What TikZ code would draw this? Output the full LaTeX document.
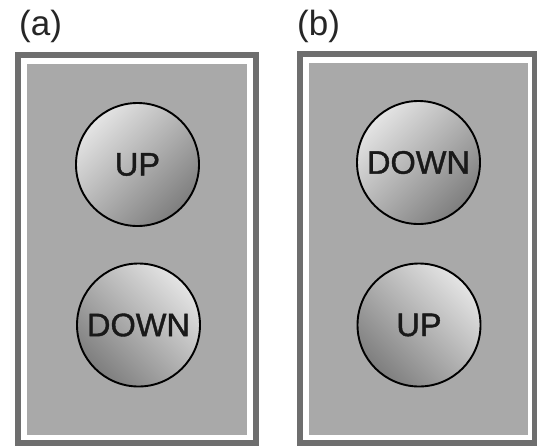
\documentclass[tikz,border=0pt]{standalone}
\usepackage{fontspec}
\setmainfont{Liberation Sans}
\newfontfamily\btnfont[FakeBold=1.2]{Liberation Sans}
\definecolor{frameDark}{HTML}{6E6E6E}
\definecolor{panelGray}{HTML}{A9A9A9}
\definecolor{btnLight}{HTML}{E4E4E4}
\definecolor{btnDark}{HTML}{7E7E7E}
\tikzset{
  btn/.style={circle, draw=black, line width=1.9pt, minimum size=123pt, inner sep=0pt,
    top color=btnLight, bottom color=btnDark, font=\btnfont\fontsize{32.5}{32.5}\selectfont, text=black!90},
  btntop/.style={btn, shading angle=45},
  btnbot/.style={btn, shading angle=-45},
  panellabel/.style={anchor=base west, inner sep=0pt, font=\fontsize{35}{35}\selectfont, text=black!85}
}
\begin{document}
\begin{tikzpicture}[x=1pt,y=-1pt]
\useasboundingbox (0,0) rectangle (537,445);
\fill[white] (0,0) rectangle (537,445);
% panel (a)
\fill[frameDark] (15,52) rectangle (259,447);
\fill[white] (21,58) rectangle (253,440);
\fill[panelGray] (27,64) rectangle (247,435);
% panel (b)
\fill[frameDark] (297,51) rectangle (539,447);
\fill[white] (303,57) rectangle (532,440);
\fill[panelGray] (309,63) rectangle (528,435);
% labels
\node[panellabel] (la) at (19,35) {(a)};
\node[panellabel] (lb) at (297,35) {(b)};
% buttons
\node[btntop] (aup) at (137.5,164.5) {UP};
\node[btnbot] (adown) at (138.5,325) {DOWN};
\node[btntop] (bdown) at (418.5,162.5) {DOWN};
\node[btnbot] (bup) at (419,325) {UP};
\end{tikzpicture}
\end{document}
